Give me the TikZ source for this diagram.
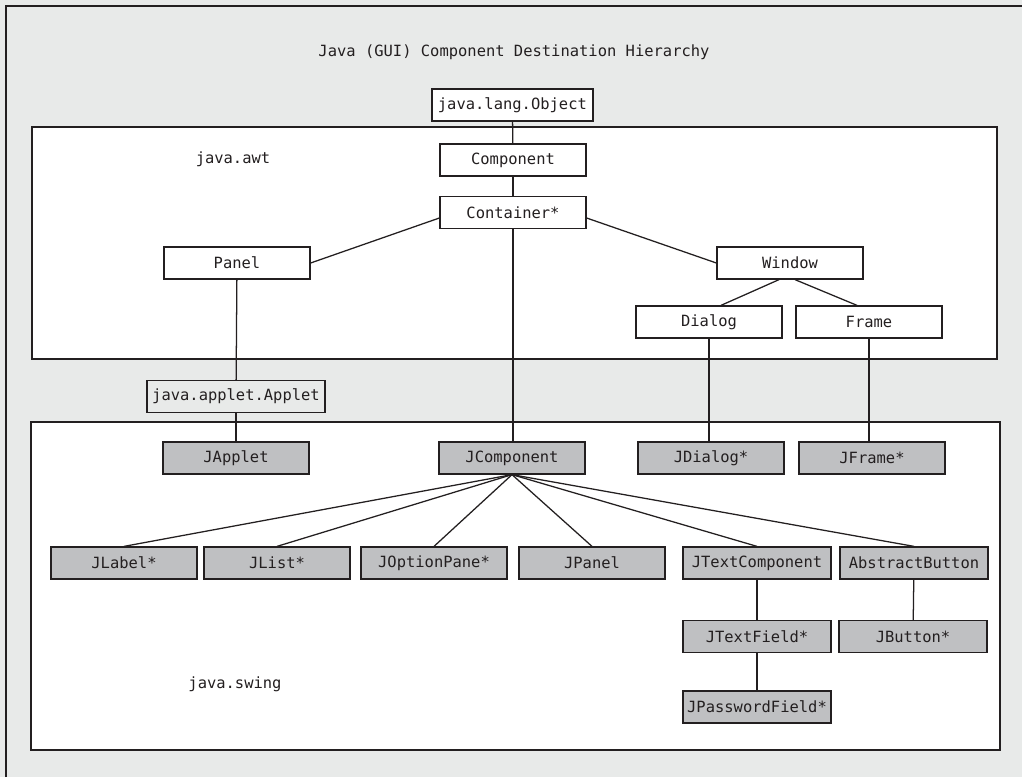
\documentclass[tikz,border=0pt]{standalone}
\usepackage{fontspec}
\setmonofont{DejaVu Sans Mono}
\usetikzlibrary{calc}
\definecolor{ink}{HTML}{231F20}
\definecolor{paper}{HTML}{E8EAE9}
\definecolor{swingfill}{HTML}{BFC0C2}

\begin{document}
\begin{tikzpicture}[
  font=\fontsize{11}{13}\selectfont\ttfamily, ink,
  cls/.style={draw=ink, line width=0.9pt, fill=white, minimum width=3.65cm,
              minimum height=0.8cm, inner sep=2pt},
  swingcls/.style={cls, fill=swingfill},
  link/.style={draw=ink, line width=0.9pt},
  pkg/.style={draw=ink, line width=1pt, fill=white},
  pkgname/.style={font=\fontsize{11}{13}\selectfont\ttfamily, text=ink},
]

% ---- page and frames --------------------------------------------------------
\useasboundingbox (0,0) rectangle (25.55,-19.425);
\fill[paper] (0,0) rectangle (25.55,-19.425);
\draw[line width=1.2pt] (0.15,-19.425) -- (0.15,-0.15) -- (25.55,-0.15);

\draw[pkg] (0.8,-3.175) rectangle (24.925,-8.975);
\draw[pkg] (0.775,-10.55) rectangle (25.0,-18.75);

\node (title) at (12.85,-1.3) {Java (GUI) Component Destination Hierarchy};
\node[pkgname] (awt)   at (5.825,-3.975) {java.awt};
\node[pkgname] (swing) at (5.875,-17.1)  {java.swing};

% ---- java.lang / java.awt ---------------------------------------------------
\node[cls, minimum width=4.025cm] (obj) at (12.81,-2.625) {java.lang.Object};
\node[cls] (comp)   at (12.825,-4.0)  {Component};
\node[cls] (cont)   at (12.825,-5.31) {Container*};
\node[cls] (panel)  at (5.925,-6.575) {Panel};
\node[cls] (window) at (19.75,-6.575) {Window};
\node[cls] (dialog) at (17.725,-8.05) {Dialog};
\node[cls] (frame)  at (21.725,-8.05) {Frame};

\draw[link] (obj) -- (comp);
\draw[link] (comp) -- (cont);
\draw[link] ($(cont.west)+(0,-0.14)$) -- (panel.east);
\draw[link] ($(cont.east)+(0,-0.14)$) -- (window.west);
\draw[link] ([xshift=-0.275cm]window.south) -- ([xshift=0.3cm]dialog.north);
\draw[link] ([xshift=0.125cm]window.south) -- ([xshift=-0.3cm]frame.north);

% ---- java.applet ------------------------------------------------------------
\node[cls, fill=paper, minimum width=4.45cm] (applet) at (5.9,-9.91) {java.applet.Applet};

% ---- javax.swing ------------------------------------------------------------
\node[swingcls] (japplet) at (5.9,-11.45)   {JApplet};
\node[swingcls] (jcomp)   at (12.8,-11.45)  {JComponent};
\node[swingcls] (jdialog) at (17.775,-11.45) {JDialog*};
\node[swingcls] (jframe)  at (21.8,-11.45)  {JFrame*};

\node[swingcls] (jlabel)  at (3.1,-14.075)   {JLabel*};
\node[swingcls] (jlist)   at (6.925,-14.075) {JList*};
\node[swingcls] (joption) at (10.85,-14.075) {JOptionPane*};
\node[swingcls] (jpanel)  at (14.8,-14.075)  {JPanel};
\node[swingcls, minimum width=3.7cm] (jtext) at (18.925,-14.075) {JTextComponent};
\node[swingcls, minimum width=3.7cm] (abstr) at (22.85,-14.075)  {AbstractButton};

\node[swingcls, minimum width=3.7cm] (jtfield) at (18.925,-15.91) {JTextField*};
\node[swingcls, minimum width=3.7cm] (jbutton) at (22.825,-15.91) {JButton*};
\node[swingcls, minimum width=3.7cm] (jpass)   at (18.925,-17.675) {JPasswordField*};

\draw[link] (panel) -- (applet);
\draw[link] (applet) -- (japplet);
\draw[link] (cont.south) -- (cont.south |- jcomp.north);
\draw[link] (dialog.south) -- (dialog.south |- jdialog.north);
\draw[link] (frame.south) -- (frame.south |- jframe.north);

\foreach \kid in {jlabel,jlist,joption,jpanel,jtext,abstr}
  \draw[link] (jcomp.south) -- (\kid.north);

\draw[link] (jtext) -- (jtfield);
\draw[link] (jtfield) -- (jpass);
\draw[link] (abstr) -- (jbutton);

\end{tikzpicture}
\end{document}
